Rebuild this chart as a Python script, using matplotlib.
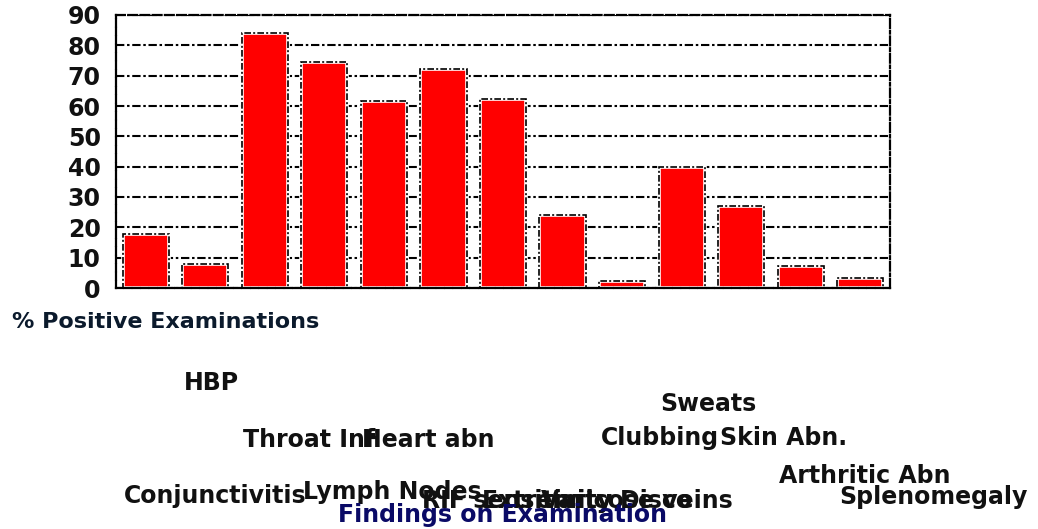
import matplotlib
matplotlib.use("Agg")
import matplotlib.pyplot as plt
import matplotlib.transforms as mtransforms

# data
findings = ["Conjunctivitis", "HBP", "Throat Inf", "Lymph Nodes", "Heart abn",
            "RIF sensitivity", "Extremity Disco", "Varicose veins", "Clubbing",
            "Sweats", "Skin Abn.", "Arthritic Abn", "Splenomegaly"]
pct_positive = [17.8, 7.9, 84.2, 74.4, 61.8, 72.3, 62.4, 24.1, 2.4,
                40.0, 26.9, 7.1, 3.2]
y_ticks = [0, 10, 20, 30, 40, 50, 60, 70, 80, 90]

# label baselines in pixels from the top of the image (layout only)
label_baseline_px = [503, 390, 447, 499, 447, 508, 508, 508, 445, 411, 445, 483, 504]

W, H = 1038, 529
fig = plt.figure(figsize=(W / 100, H / 100), dpi=100)
ax = fig.add_axes([116 / W, 1 - 288 / H, (890 - 116) / W, (288 - 15) / H])

x = list(range(len(findings)))
dashdot = (0, (4, 1.3, 1.2, 1.3))

ax.yaxis.grid(True, linestyle=dashdot, color="black", linewidth=1.5)
ax.set_axisbelow(True)

# red bars with a white gap and a dash-dot outline
ax.bar(x, pct_positive, width=0.775, color="#ff0000", edgecolor="white",
       linewidth=2.6, zorder=2)
ax.bar(x, pct_positive, width=0.775, fill=False, edgecolor="black",
       linewidth=1.2, linestyle=dashdot, zorder=3)

ax.set_xlim(-0.5, 12.5)
ax.set_ylim(0, 90)
ax.set_yticks(y_ticks)
ax.set_xticks([])
ax.tick_params(axis="y", length=0, pad=11)
for lab in ax.get_yticklabels():
    lab.set_fontsize(17)
    lab.set_fontweight("bold")
    lab.set_color("#111111")

ax.spines["top"].set_linestyle((0, (4, 1.5)))
ax.spines["bottom"].set_linestyle((0, (3, 0.8)))
ax.spines["left"].set_linestyle((0, (3, 0.8)))
ax.spines["right"].set_linestyle(dashdot)
for s in ax.spines.values():
    s.set_linewidth(1.6)

# category labels, left-aligned at each bar's left edge
trans = mtransforms.blended_transform_factory(ax.transData, fig.transFigure)
for i, name in enumerate(findings):
    ax.text(i - 0.36, 1 - label_baseline_px[i] / H, name, transform=trans,
            ha="left", va="baseline", fontsize=17, fontweight="bold",
            color="#111111", clip_on=False)

fig.text(12 / W, 1 - 328 / H, "% Positive Examinations", ha="left",
         va="baseline", fontsize=16, fontweight="bold", color="#0b1a2c")
fig.text(502 / W, 1 - 522 / H, "Findings on Examination", ha="center",
         va="baseline", fontsize=17, fontweight="bold", color="#0a0a66")

fig.savefig("out.png", dpi=100)
